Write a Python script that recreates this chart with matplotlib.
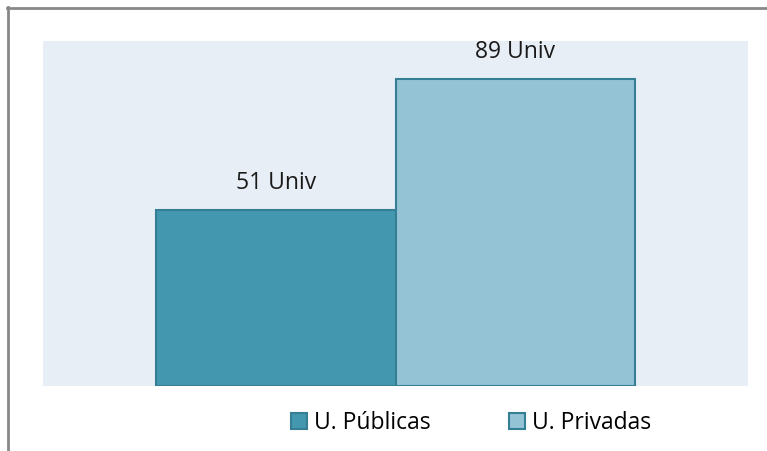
import matplotlib
matplotlib.use('Agg')
from matplotlib import pyplot as plt
from matplotlib.lines import Line2D
from matplotlib.patches import Patch

categories = ['U. Públicas', 'U. Privadas']
values = [51, 89]
labels = ['51 Univ', '89 Univ']
colors = ['#4397AE', '#93C3D4']
edge = '#357F94'

W, H = 767, 451
fig = plt.figure(figsize=(W / 100, H / 100), dpi=100)
plt.rcParams['font.family'] = ['Open Sans', 'DejaVu Sans']

# plot area in pixels
left, right, top, bottom = 43, 748, 41, 386
ax = fig.add_axes([left / W, 1 - bottom / H, (right - left) / W, (bottom - top) / H])
ax.set_facecolor('#E7EEF5')

x = [0, 1]
bars = ax.bar(x, values, width=1.0, color=colors, edgecolor=edge, linewidth=1.5)
for b, lab in zip(bars, labels):
    ax.text(b.get_x() + b.get_width() / 2, b.get_height() + 4.3, lab,
            ha='center', va='bottom', fontsize=16.5, color='#1a1a1a')

ax.set_xlim(-0.972, 1.972)
ax.set_ylim(0, 100)
ax.set_xticks([])
ax.set_yticks([])
for s in ax.spines.values():
    s.set_visible(False)

handles = [Patch(facecolor=c, edgecolor=edge, linewidth=1.5) for c in colors]
fig.legend(handles, categories, loc='center', bbox_to_anchor=(0.614, 0.062),
           ncol=2, frameon=False, fontsize=16.5, handlelength=0.7, handleheight=0.7,
           handletextpad=0.3, columnspacing=3.4)

# outer border (top and left visible)
fig.add_artist(Line2D([7 / W, 1], [1 - 7.5 / H] * 2, color='#888888', lw=2))
fig.add_artist(Line2D([7.5 / W] * 2, [0, 1 - 7 / H], color='#888888', lw=2))

plt.savefig('out.png', dpi=100)
